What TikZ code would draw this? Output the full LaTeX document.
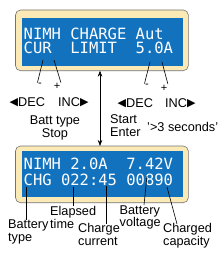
\documentclass[tikz,border=0pt]{standalone}
\usepackage{fontspec}
\setmainfont{Liberation Sans}
\newfontfamily\lcdfont{DejaVu Sans Mono}
\newfontfamily\symfont{DejaVu Sans}
\usetikzlibrary{arrows.meta}
\definecolor{lcdblue}{RGB}{18,114,190}
\definecolor{lcdframe}{RGB}{252,234,182}
\tikzset{
  frame/.style={fill=lcdframe, draw=black!55, line width=0.6pt, rounded corners=5pt},
  screen/.style={fill=lcdblue},
  lcdtext/.style={text=white, inner sep=0pt, anchor=base west, font=\lcdfont\fontsize{15.5}{16}\selectfont},
  lbl/.style={inner sep=0pt, anchor=base west, font=\fontsize{12.7}{12.6}\selectfont},
  sgn/.style={inner sep=0.5pt, font=\fontsize{11}{12}\selectfont},
  lead/.style={black, line width=0.6pt}
}
\newcommand{\lt}{{\symfont\fontsize{11}{12}\selectfont\raisebox{0.2pt}{◀}}}
\newcommand{\rt}{{\symfont\fontsize{11}{12}\selectfont\raisebox{0.2pt}{▶}}}
\begin{document}
\begin{tikzpicture}[x=1pt, y=-1pt]
    \useasboundingbox (0,0) rectangle (222,254);

    % Top display
    \draw[frame] (15.5,10) rectangle (188.3,70.7);
    \fill[screen] (21.7,17.7) rectangle (182.7,65.7);
    \node[lcdtext] (topA) at (23.5,39.3) {NIMH CHARGE Aut};
    \node[lcdtext] (topB) at (23.5,54) {CUR\ \ LIMIT\ \ 5.0A};

    % Bottom display
    \draw[frame] (15.5,146) rectangle (188.3,202.7);
    \fill[screen] (21.7,150.5) rectangle (182.7,196.7);
    \node[lcdtext] (botA) at (23.5,169) {NIMH 2.0A\ \ 7.42V};
    \node[lcdtext] (botB) at (23.5,185.7) {CHG 022:45 00890};

    % Buttons
    \node[sgn] (minusL) at (40,85) {-};
    \node[sgn] (plusL) at (57,86.5) {+};
    \node[sgn] (minusR) at (147,86) {-};
    \node[sgn] (plusR) at (164,88) {+};
    \coordinate (pinML) at (43,60);
    \coordinate (pinPL) at (54,60);
    \coordinate (pinMR) at (150,62);
    \coordinate (pinPR) at (162,62);
    \draw[lead] (pinML) -- (minusL.north west);
    \draw[lead] (pinPL) -- (plusL.north east);
    \draw[lead] (pinMR) -- (minusR.north west);
    \draw[lead] (pinPR) -- (plusR.north east);

    \node[lbl] (decL) at (9.5,106) {\lt DEC};
    \node[lbl] (incL) at (58,106) {INC\rt};
    \node[lbl] (decR) at (117.5,107) {\lt DEC};
    \node[lbl] (incR) at (165,107) {INC\rt};

    % Middle labels (multi-line nodes sit on their last baseline)
    \node[lbl, align=center, anchor=base] (battstop) at (55,137.5) {Batt type\\Stop};
    \node[lbl, align=left] (start) at (110,136) {Start\\Enter};
    \node[lbl] (hold) at (147,131) {'>3 seconds'};
    \draw[lead, {Stealth[length=6pt,width=4.5pt]}-{Stealth[length=6pt,width=4.5pt]}] (100,70.7) -- (100,146);

    % Bottom labels
    \node[lbl, align=left] (btype) at (8,241.5) {Battery\\type};
    \node[lbl, align=left] (elapsed) at (50,228) {Elapsed\\time};
    \node[lbl, align=left] (ccur) at (78,245.5) {Charge\\current};
    \node[lbl, align=left] (bvolt) at (119.5,226.7) {Battery\\voltage};
    \node[lbl, align=left] (ccap) at (163,245) {Charged\\capacity};
    \coordinate (pinBT) at (26.5,187);
    \coordinate (pinEL) at (73,187);
    \coordinate (pinCC) at (106,186);
    \coordinate (pinBV) at (147,176);
    \coordinate (pinCP) at (167,187);
    \draw[lead] (pinBT) -- (pinBT |- btype.north);
    \draw[lead] (pinEL) -- (pinEL |- elapsed.north);
    \draw[lead] (pinCC) -- (pinCC |- ccur.north);
    \draw[lead] (pinBV) -- (144,205);
    \draw[lead] (pinCP) -- (177,224);
\end{tikzpicture}
\end{document}
